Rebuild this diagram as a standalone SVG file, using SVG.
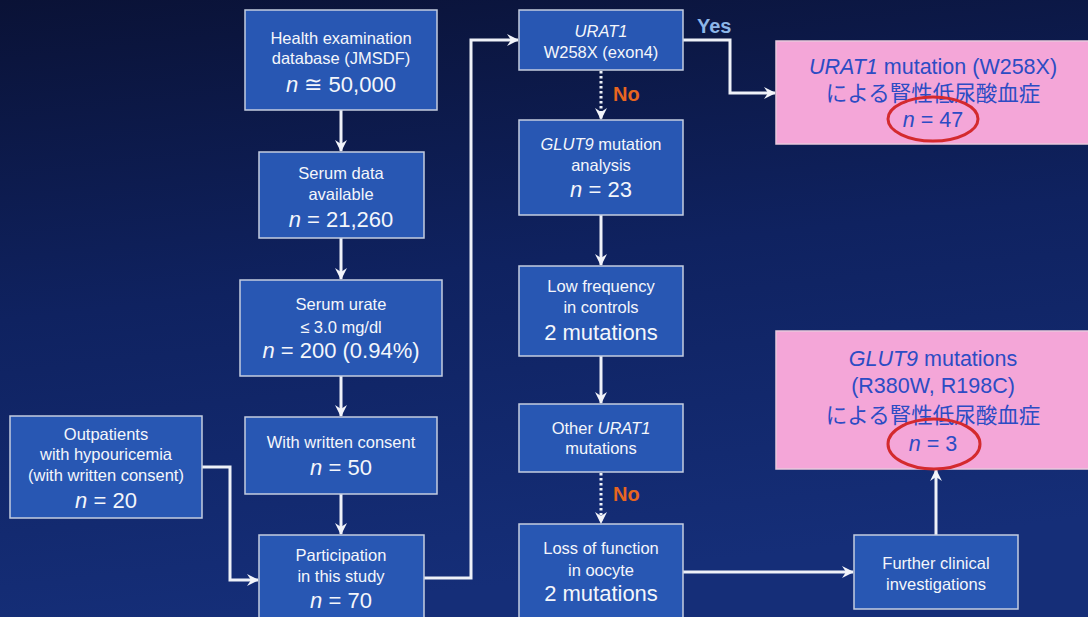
<svg xmlns="http://www.w3.org/2000/svg" width="1088" height="617" viewBox="0 0 1088 617">
<defs>
<linearGradient id="bg" x1="0" y1="0" x2="0.2" y2="1">
<stop offset="0" stop-color="#0a1236"/>
<stop offset="0.5" stop-color="#0f2260"/>
<stop offset="1" stop-color="#152e78"/>
</linearGradient>
<marker id="ah" viewBox="0 0 12 12" refX="11" refY="6" markerWidth="12" markerHeight="12" markerUnits="userSpaceOnUse" orient="auto">
<path d="M0,0 L12,6 L0,12 L4,6 z" fill="#f2f4fa"/>
</marker>
<style>
.box{fill:#2857b3;stroke:#c4cde0;stroke-width:1.5}
.pink{fill:#f4a6d8;stroke:#e8c8dc;stroke-width:1.5}
.t{font-family:"Liberation Sans",Arial,sans-serif;fill:#f4f6fb;text-anchor:middle;font-size:16.5px}
.big{font-size:22px}
.pt{font-family:"Liberation Sans","Noto Sans CJK JP",sans-serif;fill:#2c4cc4;text-anchor:middle;font-size:21.5px}
.i{font-style:italic}
.c{fill:none;stroke:#eef1f8;stroke-width:3}
.d{fill:none;stroke:#eef1f8;stroke-width:3;stroke-dasharray:2.5 2.5}
.red{fill:none;stroke:#d42a2e;stroke-width:3}
.yes{font-family:"Liberation Sans",Arial,sans-serif;font-weight:bold;font-size:20px;fill:#8db6e8}
.no{font-family:"Liberation Sans",Arial,sans-serif;font-weight:bold;font-size:20px;fill:#e8651f}
</style>
</defs>
<rect width="1088" height="617" fill="url(#bg)"/>

<g id="connectors">
<path class="c" d="M341,110 V151" marker-end="url(#ah)"/>
<path class="c" d="M341,238 V279" marker-end="url(#ah)"/>
<path class="c" d="M341,376 V416" marker-end="url(#ah)"/>
<path class="c" d="M341,494 V534" marker-end="url(#ah)"/>
<path class="c" d="M202,467 H230 V580 H258" marker-end="url(#ah)"/>
<path class="c" d="M424,578 H471 V40 H518" marker-end="url(#ah)"/>
<path class="c" d="M683,40 H730 V93 H775" marker-end="url(#ah)"/>
<path class="d" d="M601,71 V119" marker-end="url(#ah)"/>
<path class="c" d="M601,215 V265" marker-end="url(#ah)"/>
<path class="c" d="M601,356 V403" marker-end="url(#ah)"/>
<path class="d" d="M601,473 V523" marker-end="url(#ah)"/>
<path class="c" d="M683,572 H853" marker-end="url(#ah)"/>
<path class="c" d="M936,535 V470" marker-end="url(#ah)"/>
<text class="yes" x="697" y="33">Yes</text>
<text class="no" x="613" y="101">No</text>
<text class="no" x="613" y="501">No</text>
</g>

<g id="n1"><rect class="box" x="245" y="10" width="192" height="100"/>
<text class="t" x="341" y="44">Health examination</text>
<text class="t" x="341" y="64">database (JMSDF)</text>
<text class="t big" x="341" y="92"><tspan class="i">n</tspan> ≅ 50,000</text></g>

<g id="n2"><rect class="box" x="259" y="152" width="165" height="86"/>
<text class="t" x="341" y="179">Serum data</text>
<text class="t" x="341" y="200">available</text>
<text class="t big" x="341" y="227"><tspan class="i">n</tspan> = 21,260</text></g>

<g id="n3"><rect class="box" x="240" y="280" width="202" height="96"/>
<text class="t" x="341" y="310">Serum urate</text>
<text class="t" x="341" y="333">≤ 3.0 mg/dl</text>
<text class="t big" x="341" y="358"><tspan class="i">n</tspan> = 200 (0.94%)</text></g>

<g id="n4"><rect class="box" x="245" y="417" width="192" height="77"/>
<text class="t" x="341" y="448">With written consent</text>
<text class="t big" x="341" y="475"><tspan class="i">n</tspan> = 50</text></g>

<g id="n5"><rect class="box" x="259" y="535" width="165" height="90"/>
<text class="t" x="341" y="561">Participation</text>
<text class="t" x="341" y="582">in this study</text>
<text class="t big" x="341" y="608"><tspan class="i">n</tspan> = 70</text></g>

<g id="n6"><rect class="box" x="10" y="416" width="192" height="102"/>
<text class="t" x="106" y="440">Outpatients</text>
<text class="t" x="106" y="460">with hypouricemia</text>
<text class="t" x="106" y="481">(with written consent)</text>
<text class="t big" x="106" y="508"><tspan class="i">n</tspan> = 20</text></g>

<g id="n7"><rect class="box" x="519" y="10" width="164" height="60"/>
<text class="t i" x="601" y="37">URAT1</text>
<text class="t" x="601" y="58">W258X (exon4)</text></g>

<g id="n8"><rect class="box" x="519" y="120" width="164" height="95"/>
<text class="t" x="601" y="150"><tspan class="i">GLUT9</tspan> mutation</text>
<text class="t" x="601" y="171">analysis</text>
<text class="t big" x="601" y="197"><tspan class="i">n</tspan> = 23</text></g>

<g id="n9"><rect class="box" x="519" y="266" width="164" height="90"/>
<text class="t" x="601" y="292">Low frequency</text>
<text class="t" x="601" y="313">in controls</text>
<text class="t big" x="601" y="340">2 mutations</text></g>

<g id="n10"><rect class="box" x="519" y="404" width="164" height="68"/>
<text class="t" x="601" y="434">Other <tspan class="i">URAT1</tspan></text>
<text class="t" x="601" y="454">mutations</text></g>

<g id="n11"><rect class="box" x="519" y="524" width="164" height="100"/>
<text class="t" x="601" y="554">Loss of function</text>
<text class="t" x="601" y="576">in oocyte</text>
<text class="t big" x="601" y="601">2 mutations</text></g>

<g id="n12"><rect class="box" x="854" y="535" width="164" height="74"/>
<text class="t" x="936" y="569">Further clinical</text>
<text class="t" x="936" y="590">investigations</text></g>

<g id="n13"><rect class="pink" x="776" y="41" width="318" height="103"/>
<text class="pt" x="933" y="74"><tspan class="i">URAT1</tspan> mutation (W258X)</text>
<text class="pt" x="933" y="101">による腎性低尿酸血症</text>
<text class="pt" x="933" y="127"><tspan class="i">n</tspan> = 47</text>
<ellipse class="red" cx="933" cy="119" rx="45" ry="22"/></g>

<g id="n14"><rect class="pink" x="776" y="331" width="318" height="138"/>
<text class="pt" x="933" y="366"><tspan class="i">GLUT9</tspan> mutations</text>
<text class="pt" x="933" y="393">(R380W, R198C)</text>
<text class="pt" x="933" y="423">による腎性低尿酸血症</text>
<text class="pt" x="933" y="451"><tspan class="i">n</tspan> = 3</text>
<ellipse class="red" cx="934" cy="444" rx="46" ry="25"/></g>
</svg>
